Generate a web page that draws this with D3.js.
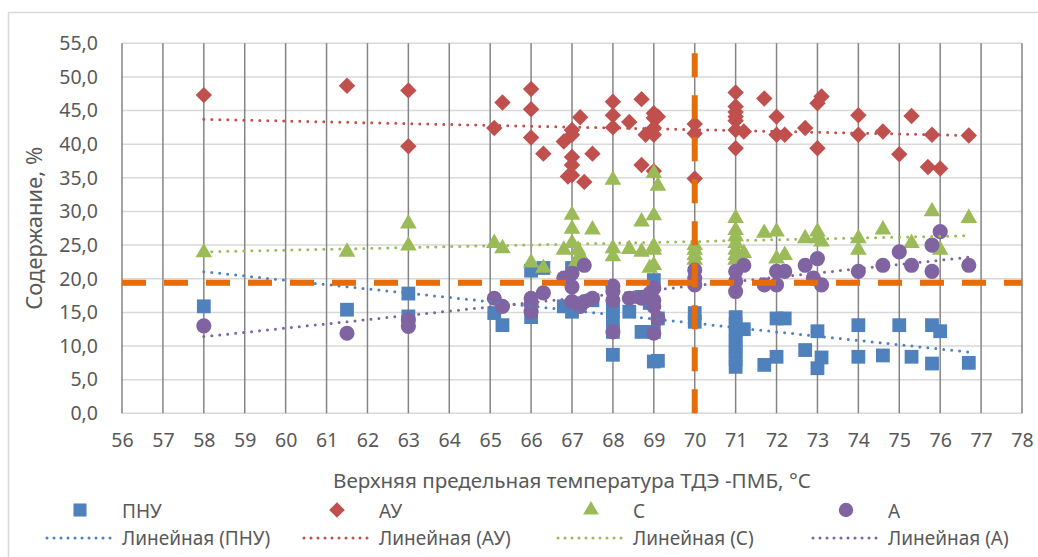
<!DOCTYPE html>
<html>
<head>
<meta charset="utf-8">
<script src="https://cdn.jsdelivr.net/npm/d3@7"></script>
<style>
  html, body { margin: 0; padding: 0; background: #fff; }
  svg { display: block; font-family: "Noto Sans", "Open Sans", sans-serif; }
</style>
</head>
<body>
<svg id="chart" width="1038" height="557"></svg>
<script>
// данные: [температура, содержание %]
var PNU = [[58,15.9],[61.5,15.4],[63,17.8],[63,14.4],[65.1,14.9],[65.3,13.1],[66,21.2],[66,14.3],[66.3,21.6],
  [66.8,15.9],[67,21.6],[67,15.1],[67.5,16.8],[68,15.9],[68,15.1],[68,13.6],[68,12.1],[68,8.7],[68.4,15.1],
  [68.7,17.3],[68.7,12.1],[68.9,16.4],[69,19.8],[69.1,14.1],[69,12.1],[69,7.7],[69.1,7.8],[70,14.9],[70,13.6],
  [71,14.3],[71,13.2],[71,12.1],[71,11.0],[71,10.0],[71,9.0],[71,8.0],[71,6.9],[71.2,12.5],[71.7,7.2],
  [72,14.1],[72,8.4],[72.2,14.1],[72.7,9.4],[73,12.2],[73,6.7],[73.1,8.3],[74,13.1],[74,8.4],[74.6,8.6],
  [75,13.1],[75.3,8.4],[75.8,13.1],[75.8,7.4],[76,12.2],[76.7,7.5]];
var AU = [[58,47.3],[61.5,48.7],[63,48.0],[63,39.7],[65.1,42.4],[65.3,46.2],[66,48.2],[66,45.2],[66,41.0],
  [66.3,38.6],[66.8,40.4],[67,42.1],[67,41.4],[67.2,44.0],[67,38.1],[67,36.9],[67,35.4],[66.9,35.2],
  [67.3,34.4],[67.5,38.6],[68,46.3],[68,44.3],[68,42.5],[68.4,43.3],[68.7,46.7],[68.7,36.9],[68.8,41.4],
  [69,44.6],[69,43.9],[69,42.4],[69,41.4],[69.1,44.1],[69,36.0],[70,43.0],[70,41.6],[70,34.9],
  [71,47.7],[71,45.6],[71,44.8],[71,44.1],[71,43.5],[71,42.1],[71,39.4],[71.2,41.9],[71.7,46.8],
  [72,44.1],[72,41.4],[72.2,41.4],[72.7,42.4],[73,46.1],[73,39.4],[73.1,47.1],[74,44.3],[74,41.4],
  [74.6,41.9],[75,38.5],[75.3,44.2],[75.7,36.6],[75.8,41.4],[76,36.4],[76.7,41.3]];
var C = [[58,23.9],[61.5,24.0],[63,28.2],[63,24.9],[65.1,25.3],[65.3,24.5],[66,22.4],[66.3,21.6],
  [66.8,24.3],[67,29.5],[67,27.4],[67,25.3],[67.15,24.3],[67.2,23.5],[67.1,22.5],[67.5,27.3],
  [68,34.7],[68,24.5],[68,23.3],[68.4,24.4],[68.7,28.5],[68.7,24.0],[68.9,21.6],[69,35.7],[69,29.4],
  [69.1,33.8],[69,24.8],[69,24.3],[69,22.0],[70,25.0],[70,24.3],[70,23.5],[70,22.8],
  [71,29.0],[71,27.2],[71,26.3],[71,25.3],[71,24.3],[71,23.5],[71,22.8],[71.2,23.8],[71.7,26.8],
  [72,27.0],[72,23.0],[72.2,23.5],[72.7,26.0],[73,27.0],[73,26.0],[73.1,25.5],[74,26.0],[74,24.3],
  [74.6,27.3],[75.3,25.3],[75.8,30.0],[76,24.3],[76.7,29.0]];
var A = [[58,13.0],[61.5,11.9],[63,13.9],[63,12.9],[65.1,17.1],[65.3,15.9],[66,17.1],[66,16.2],[66,15.1],
  [66.3,17.9],[66.8,20.1],[67,20.8],[67,18.8],[67,16.6],[67.3,22.0],[67.2,15.9],[67.3,16.6],[67.5,17.1],
  [68,18.9],[68,18.1],[68,16.8],[68,12.1],[68.4,17.1],[68.7,17.1],[68.9,17.8],[69,18.6],[69,16.8],
  [69,15.9],[69.1,14.1],[69,11.9],[70,21.3],[70,20.1],[70,19.1],[71,21.1],[71,19.6],[71,18.1],
  [71.2,22.0],[71.7,19.1],[72,21.1],[72,19.1],[72.2,21.1],[72.7,22.0],[73,23.0],[72.9,20.1],[73.1,19.1],
  [74,21.1],[74.6,22.0],[75,24.0],[75.3,22.0],[75.8,25.0],[75.8,21.1],[76,27.0],[76.7,22.0]];

// линейные тренды: значения на концах (x = 58 и x = 76.7)
var TREND_X = [58, 76.7];
var TREND_PNU = [21.05, 9.1];
var TREND_AU = [43.7, 41.3];
var TREND_C = [24.0, 26.4];
var TREND_A = [11.4, 23.2];

// оранжевые граничные линии
var LIMIT_Y = 19.4;
var LIMIT_X = 70;

var X_TICKS = d3.range(56, 79, 1);
var Y_TICKS = d3.range(0, 56, 5);

// rot: ромб = квадрат, повёрнутый на 45°
var SERIES = [
  { name: 'ПНУ', data: PNU, trend: TREND_PNU, color: '#4f81bd', sym: d3.symbolSquare, size: 190, rot: 0 },
  { name: 'АУ', data: AU, trend: TREND_AU, color: '#c0504d', sym: d3.symbolSquare, size: 135, rot: 45 },
  { name: 'С', data: C, trend: TREND_C, color: '#9bbb59', sym: d3.symbolTriangle, size: 120, rot: 0 },
  { name: 'А', data: A, trend: TREND_A, color: '#8064a2', sym: d3.symbolCircle, size: 180, rot: 0 }
];

var svg = d3.select('#chart');
var x = d3.scaleLinear().domain([56, 78]).range([122, 1022]);
var y = d3.scaleLinear().domain([0, 55]).range([413.3, 43.3]);
var ORANGE = '#e46c0a', TXT = '#595959';

// рамка диаграммы
svg.append('rect').attr('x', 8.5).attr('y', 12.5).attr('width', 1040).attr('height', 560)
  .attr('fill', 'none').attr('stroke', '#d9d9d9').attr('stroke-width', 1.5);

// сетка
var grid = svg.append('g');
grid.selectAll('.hg').data(Y_TICKS).enter().append('line')
  .attr('x1', x(56)).attr('x2', x(78)).attr('y1', function (d) { return y(d); }).attr('y2', function (d) { return y(d); })
  .attr('stroke', '#d9d9d9').attr('stroke-width', 1.5);
grid.selectAll('.vg').data(X_TICKS).enter().append('line')
  .attr('y1', y(0)).attr('y2', y(55)).attr('x1', function (d) { return x(d); }).attr('x2', function (d) { return x(d); })
  .attr('stroke', '#858585').attr('stroke-width', 1.5);

// оси (только подписи)
var fmt = function (d) { return d.toFixed(1).replace('.', ','); };
var yAxis = svg.append('g').attr('transform', 'translate(' + (x(56) - 2) + ',0)')
  .call(d3.axisLeft(y).tickValues(Y_TICKS).tickFormat(fmt).tickSize(0).tickPadding(22));
var xAxis = svg.append('g').attr('transform', 'translate(0,' + y(0) + ')')
  .call(d3.axisBottom(x).tickValues(X_TICKS).tickFormat(d3.format('d')).tickSize(0).tickPadding(20));
[yAxis, xAxis].forEach(function (g) {
  g.select('.domain').remove();
  g.selectAll('text').attr('fill', TXT).attr('font-size', 19.5).attr('font-family', '"Noto Sans", sans-serif');
});

function place(s) {
  return function (d) { return 'translate(' + x(d[0]) + ',' + y(d[1]) + ') rotate(' + s.rot + ')'; };
}

// маркеры
SERIES.forEach(function (s) {
  svg.append('g').selectAll('path').data(s.data).enter().append('path')
    .attr('d', d3.symbol().type(s.sym).size(s.size))
    .attr('transform', place(s))
    .attr('fill', s.color);
});

// линии тренда (пунктир точками)
SERIES.forEach(function (s) {
  svg.append('line')
    .attr('x1', x(TREND_X[0])).attr('y1', y(s.trend[0])).attr('x2', x(TREND_X[1])).attr('y2', y(s.trend[1]))
    .attr('stroke', s.color).attr('stroke-width', 3).attr('stroke-linecap', 'round').attr('stroke-dasharray', '0,8');
});

// оранжевые пунктиры
svg.append('line').attr('x1', x(56)).attr('x2', x(78)).attr('y1', y(LIMIT_Y)).attr('y2', y(LIMIT_Y))
  .attr('stroke', ORANGE).attr('stroke-width', 6).attr('stroke-dasharray', '24,18');
svg.append('line').attr('x1', x(LIMIT_X)).attr('x2', x(LIMIT_X)).attr('y1', y(0)).attr('y2', y(55))
  .attr('stroke', ORANGE).attr('stroke-width', 6).attr('stroke-dasharray', '24,18');

// подписи осей
svg.append('text').attr('x', (x(56) + x(78)) / 2).attr('y', 488).attr('text-anchor', 'middle')
  .attr('fill', TXT).attr('font-size', 20.6).text('Верхняя предельная температура ТДЭ -ПМБ, °С');
svg.append('text').attr('transform', 'translate(42,' + ((y(0) + y(55)) / 2) + ') rotate(-90)')
  .attr('text-anchor', 'middle').attr('fill', TXT).attr('font-size', 22).text('Содержание, %');

// легенда
var LEG_X = [80, 337, 591, 846];
var leg = svg.append('g');
SERIES.forEach(function (s, i) {
  leg.append('path').attr('d', d3.symbol().type(s.sym).size(s.size * 0.9))
    .attr('transform', 'translate(' + LEG_X[i] + ',510) rotate(' + s.rot + ')').attr('fill', s.color);
  leg.append('text').attr('x', LEG_X[i] + 42).attr('y', 518).attr('fill', TXT).attr('font-size', 19).text(s.name);
  leg.append('line').attr('x1', LEG_X[i] - 33).attr('x2', LEG_X[i] + 33).attr('y1', 538).attr('y2', 538)
    .attr('stroke', s.color).attr('stroke-width', 3).attr('stroke-linecap', 'round').attr('stroke-dasharray', '0,7');
  leg.append('text').attr('x', LEG_X[i] + 42).attr('y', 545).attr('fill', TXT).attr('font-size', 19)
    .text('Линейная (' + s.name + ')');
});
</script>
</body>
</html>
